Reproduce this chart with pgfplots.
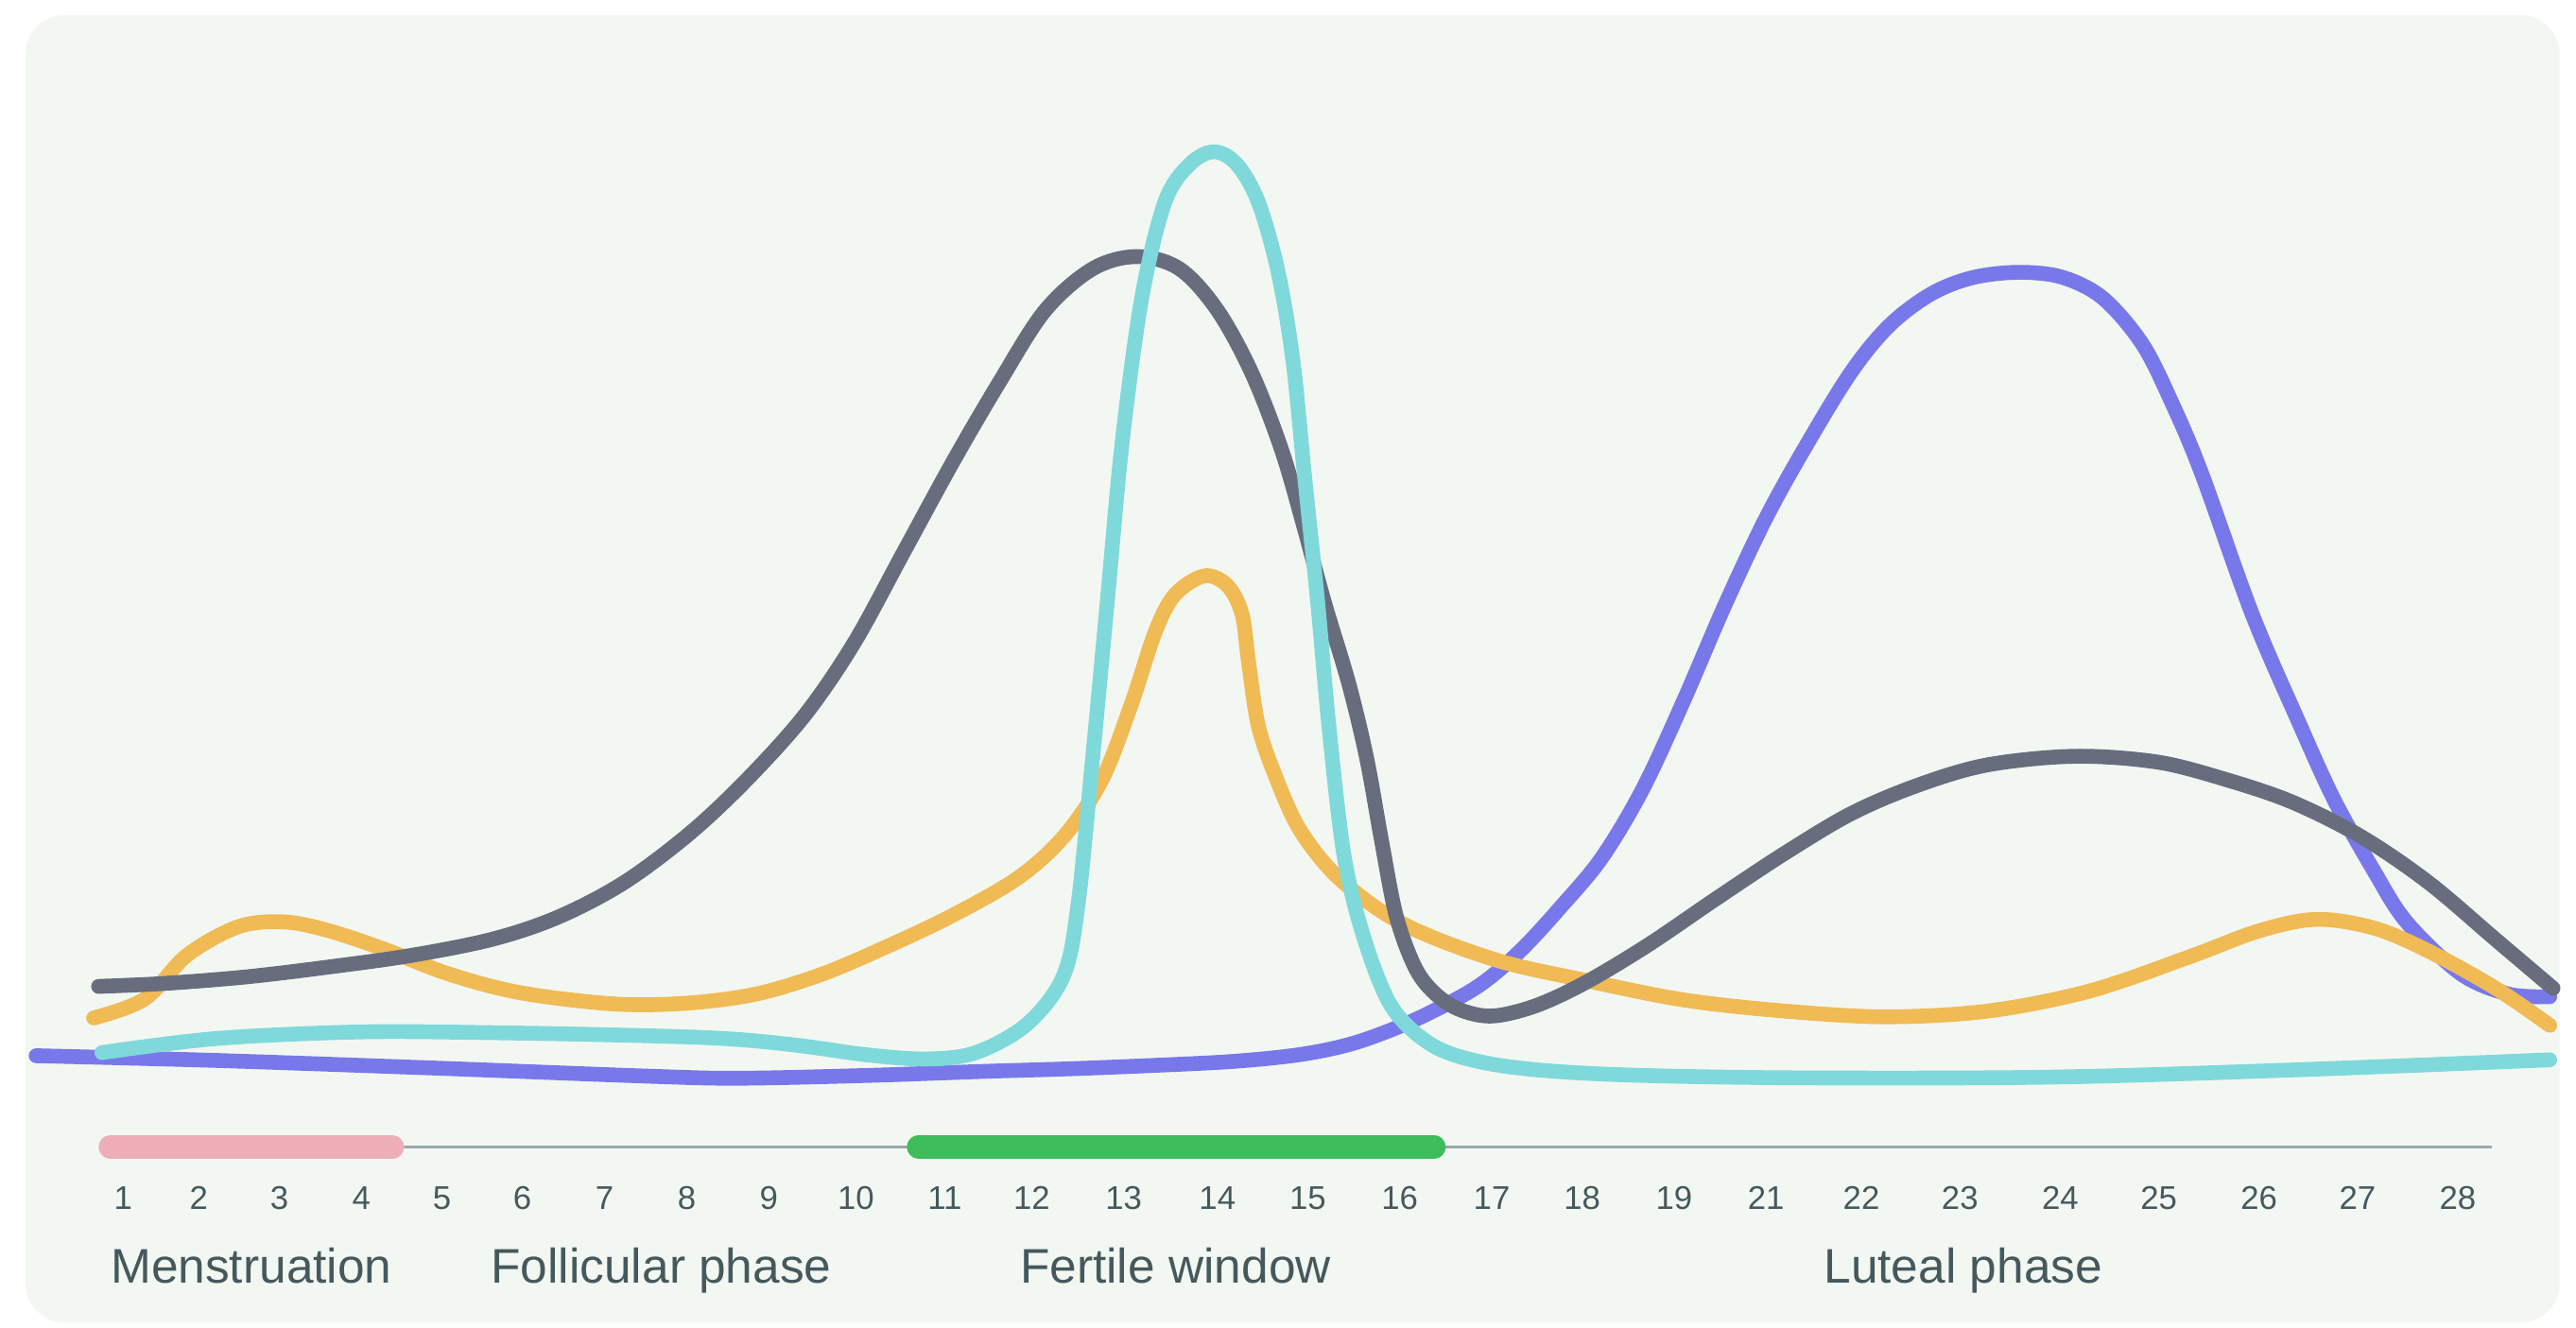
\documentclass[border=0pt]{standalone}
\usepackage{pgfplots}
\pgfplotsset{compat=1.18}
\usepackage{fontspec}
\setmainfont{Liberation Sans}
\definecolor{bgc}{HTML}{F3F7F2}
\definecolor{cgrey}{HTML}{676D7D}
\definecolor{ccyan}{HTML}{7FD9DA}
\definecolor{cyel}{HTML}{F0BA55}
\definecolor{cpur}{HTML}{7878EA}
\definecolor{cpink}{HTML}{EDAEB8}
\definecolor{cgreen}{HTML}{3DBD5B}
\definecolor{ctext}{HTML}{45595D}
\definecolor{cline}{HTML}{9AA8AB}
\begin{document}
\begin{tikzpicture}
\begin{axis}[
  set layers,
  width=784pt, height=404pt, scale only axis,
  xmin=0, xmax=1568, ymin=0, ymax=808,
  clip=false,
  axis line style={draw=none},
  ytick=\empty,
  major tick length=0pt,
  xtick={75,121,170,220,269,318,368,418,468,521,575,628,684,741,796,852,908,963,1019,1075,1133,1193,1254,1314,1375,1435,1496},
  xticklabels={1,2,3,4,5,6,7,8,9,10,11,12,13,14,15,16,17,18,19,21,22,23,24,25,26,27,28},
  xticklabel style={anchor=base, yshift=36pt, font=\fontsize{10}{12}\selectfont, text=ctext},
  /pgf/number format/assume math mode=true,
  every axis plot/.append style={line width=4.5pt, line cap=round, line join=round},
]
\begin{pgfonlayer}{axis background}
\fill[white] (axis cs:0,0) rectangle (axis cs:1568,808);
\fill[bgc, rounded corners=12pt] (axis cs:15.5,3) rectangle (axis cs:1558,799);
\end{pgfonlayer}

% timeline
\addplot[cline, line width=0.9pt, line cap=butt] coordinates {(62,110) (1517,110)};
\addplot[cpink, line width=7pt] coordinates {(67,110) (239,110)};
\addplot[cgreen, line width=7pt] coordinates {(559,110) (873,110)};

% purple
\addplot[cpur, smooth, tension=0.55] coordinates {
(22,165.5) (132,162.6) (264,158) (396,153) (450,151.8) (528,153.5) (600,156) (650,157.5) (700,159.5) (750,162) (790,166) (820,172) (845,180.5) (870,191.5) (900,208) (925,229) (950,256) (975,286) (1000,328) (1025,382) (1050,440) (1075,493) (1100,538) (1127,582) (1150,610) (1175,629) (1200,639) (1228,642.4) (1255,639.5) (1280,626.7) (1304,598.8) (1322,563) (1340,520.3) (1371,434) (1400,366.8) (1421,320.8) (1445,278) (1465,246.7) (1498,215.3) (1527,203) (1552,201.4)};

% yellow
\addplot[cyel, smooth, tension=0.55] coordinates {
(57,188.5) (88,200) (114,226.8) (145,244) (172,247) (198,242.2) (233,230.7) (273,215.3) (317,203.8) (374,197) (418,197.5) (460,203) (500,215) (540,232) (580,251) (620,274) (648,299.5) (671,334) (689,380.5) (703,423) (715,446) (733,457.6) (747,451.8) (756,434.4) (760,405) (766,366) (777,334) (791,303.4) (812,276.4) (841,253.3) (871,238) (915,222.5) (962,212) (1024,199.6) (1086,192.7) (1148,189.2) (1210,192.7) (1272,204.9) (1333,225.8) (1375,241.5) (1410,248.5) (1445,243.2) (1478,229.3) (1519,206.6) (1552,184)};

% grey
\addplot[cgrey, smooth, tension=0.55] coordinates {
(60,207.7) (100,209.5) (150,213.5) (200,219.5) (250,226.5) (300,236.5) (340,250) (380,271) (420,301) (455,334) (490,373) (520,417) (550,472) (580,527) (608,575) (636,619) (665,644.5) (692,652) (718,644.5) (741,619.4) (762,581) (780,534.6) (793,490) (806,442) (821,392) (832,346) (841,296) (850,250) (862,218) (875,202) (890,193) (909,189.7) (935,196) (965,210) (1003,232.8) (1044,260.7) (1086,288.5) (1127,313) (1168,330.4) (1210,342.6) (1263,347.8) (1313,344.3) (1354,333.9) (1395,320) (1437,299) (1478,271.1) (1519,236.3) (1554,206.6)};

% cyan
\addplot[ccyan, smooth, tension=0.55] coordinates {
(62,167.4) (132,176) (220,180) (300,179.5) (380,178) (440,176) (484,172) (528,166) (564,163.5) (594,167.4) (625,184.6) (647,213.4) (656,256) (665,346) (674,442) (683,538.5) (695,627) (709,685) (724,708) (739,715.8) (753,708) (766,685) (778,642.5) (787,588.6) (794,519) (802,442) (809,365) (818,288) (830,238) (847,195.5) (871,172.4) (900,162) (940,156.5) (1000,153.5) (1100,152) (1250,152.5) (1400,157) (1552,163)};

% phase labels
\node[anchor=base, text=ctext, font=\fontsize{14.8}{17}\selectfont] at (axis cs:153,27) {Menstruation};
\node[anchor=base, text=ctext, font=\fontsize{14.8}{17}\selectfont] at (axis cs:402.5,27) {Follicular phase};
\node[anchor=base, text=ctext, font=\fontsize{14.8}{17}\selectfont] at (axis cs:715.5,27) {Fertile window};
\node[anchor=base, text=ctext, font=\fontsize{14.8}{17}\selectfont] at (axis cs:1195,27) {Luteal phase};
\end{axis}
\end{tikzpicture}
\end{document}
